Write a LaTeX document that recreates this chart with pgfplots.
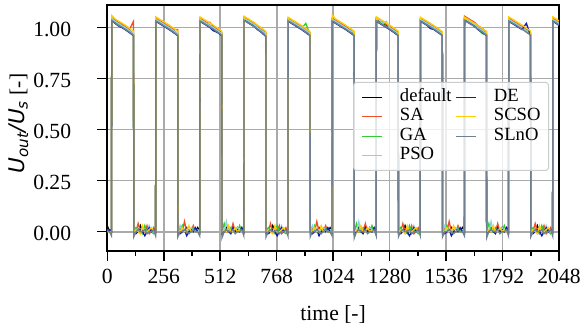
\documentclass[border=0pt]{standalone}
\usepackage{fontspec}
\setmainfont{Liberation Serif}
\newfontfamily\dejavu{DejaVu Sans}
\usepackage{pgfplots}
\pgfplotsset{compat=1.18}
\usepackage{pgfplotstable}
\definecolor{cdef}{RGB}{0,0,0}
\definecolor{csa}{RGB}{240,80,40}
\definecolor{cga}{RGB}{50,205,50}
\definecolor{cpso}{RGB}{140,210,230}
\definecolor{cde}{RGB}{15,25,175}
\definecolor{csc}{RGB}{255,205,0}
\definecolor{csl}{RGB}{112,128,144}
\definecolor{gridc}{RGB}{170,170,170}
\definecolor{legc}{RGB}{204,204,204}

\pgfplotstableread{
x d sa ga pso de sc sl
0 0.03 0 0.01 0 0 0 0.005
10 0 0.01 0 0 0.01 0 0
19 0 0 0 0 0 0 -0.02
20 1.045 1.05 1.04 1.045 1.035 1.058 1.035
35 1.03 1.035 1.025 1.03 1.02 1.042 1.022
50 1.02 1.025 1.012 1.02 1.008 1.032 1.01
65 1.01 1.02 1.005 1.01 1.0 1.022 1.002
80 1.0 1.005 0.995 1.0 0.99 1.012 0.992
100 0.985 0.99 0.98 0.985 0.975 0.997 0.977
119 0.97 1.03 0.965 0.97 0.96 0.982 0.962
120 0 0 0 0 -0.01 0 -0.025
130 0.01 0 0.02 0 -0.01 0.01 0
140 0 0.04 0 0.01 0 0 0.01
150 0.03 0 0 0 0.01 -0.01 0
160 0 0.01 -0.01 0.02 0 0.03 0
170 0 0 0.03 0 -0.02 0 0.01
180 0.02 0.03 0 0 0 0 -0.01
190 0 -0.01 0.01 0.03 0.02 0.01 0
200 0.01 0 0 0 0 0.02 0
210 0 0.02 -0.01 0 0.01 0 0.01
219 0 0 0 0 0 0 -0.02
220 1.04 1.045 1.035 1.04 1.03 1.052 1.032
235 1.03 1.035 1.025 1.03 1.02 1.042 1.022
250 1.02 1.025 1.015 1.02 1.01 1.032 1.012
265 1.01 1.015 1.005 1.01 1.0 1.022 1.002
280 1.0 1.005 0.995 1.0 0.99 1.012 0.992
300 0.985 0.99 0.98 0.985 0.975 0.997 0.977
319 0.97 0.99 0.965 0.97 0.96 0.982 0.962
320 0 0 0 0 0 0 -0.025
330 0 0.02 0 0.03 -0.01 0 0
340 0.01 0 0.03 0 0 0.02 0
350 0 0.05 0 0 0.01 0 0.01
360 0.02 0 0 0.01 -0.02 0 0
370 0 0.01 0.01 0 0 0.03 -0.01
380 0 0 0 0.02 0.01 0 0
390 0.01 0.03 0.02 0 0 0.01 0.01
400 0 0 0 0 0.02 0 0
410 0.02 0 0.01 0.01 0 0 0
419 0 0 0 0 0 0 -0.02
420 1.04 1.045 1.035 1.04 1.03 1.052 1.032
435 1.03 1.035 1.025 1.03 1.02 1.042 1.022
450 1.02 1.025 1.015 1.02 1.01 1.032 1.012
465 1.01 1.025 1.0 1.01 1.0 1.022 1.002
480 1.0 1.005 0.985 1.0 0.985 1.012 0.992
500 0.985 0.99 0.98 0.985 0.975 0.997 0.977
519 0.97 0.975 0.965 0.97 0.96 0.982 0.962
520 0 0 0 0 -0.01 0 -0.03
530 0 0.01 0.04 0 0 0.01 0
540 0.02 0 0 0.05 0.01 0 0.01
550 0 0.02 0 0 0 0.03 0
560 0 0 0.02 0 -0.01 0 0
570 0.01 0.04 0 0.01 0.02 0 0.01
580 0 0 0.01 0 0 0.02 -0.01
590 0.02 0.01 0 0.02 0.01 0 0
600 0 0 0.03 0 0 0.01 0
610 0.01 0.02 0 0 0.02 0 0.01
619 0 0 0 0 0 0 -0.02
620 1.045 1.05 1.04 1.045 1.035 1.055 1.035
635 1.035 1.04 1.03 1.035 1.025 1.045 1.025
650 1.025 1.03 1.02 1.025 1.015 1.035 1.015
665 1.015 1.02 1.01 1.015 1.005 1.025 1.005
680 1.0 1.01 0.995 1.0 0.99 1.012 0.992
700 0.985 0.995 0.98 0.985 0.975 0.997 0.977
719 0.97 0.975 0.965 0.97 0.955 0.98 0.958
720 0 0 0 0 -0.01 0 -0.025
730 0.01 0 0.02 0 -0.01 0.01 0
740 0 0.04 0 0.01 0 0 0.01
750 0.03 0 0 0 0.01 -0.01 0
760 0 0.01 -0.01 0.02 0 0.03 0
770 0 0 0.03 0 -0.02 0 0.01
780 0.02 0.03 0 0 0 0 -0.01
790 0 -0.01 0.01 0.03 0.02 0.01 0
800 0.01 0 0 0 0 0.02 0
810 0 0.02 -0.01 0 0.01 0 0.01
819 0 0 0 0 0 0 -0.02
820 1.04 1.045 1.035 1.04 1.03 1.05 1.032
835 1.03 1.035 1.025 1.03 1.02 1.04 1.022
850 1.02 1.025 1.015 1.02 1.01 1.03 1.012
865 1.01 1.015 1.005 1.01 1.0 1.02 1.002
880 1.0 1.005 0.995 1.0 0.99 1.01 0.992
900 0.985 0.99 1.02 0.985 0.975 0.995 0.977
919 0.97 0.975 0.965 0.97 0.96 0.98 0.962
920 0 0 0 0 0 0 -0.025
930 0 0.02 0 0.03 -0.01 0 0
940 0.01 0 0.03 0 0 0.02 0
950 0 0.05 0 0 0.01 0 0.01
960 0.02 0 0 0.01 -0.02 0 0
970 0 0.01 0.01 0 0 0.03 -0.01
980 0 0 0 0.02 0.01 0 0
990 0.01 0.03 0.02 0 0 0.01 0.01
1000 0 0 0 0 0.02 0 0
1010 0.02 0 0.01 0.01 0 0 0
1019 0 0 0 0 0 0 -0.02
1020 1.04 1.045 1.035 1.04 1.03 1.06 1.032
1035 1.03 1.035 1.025 1.03 1.02 1.042 1.022
1050 1.02 1.025 1.015 1.02 1.01 1.032 1.012
1065 1.01 1.015 1.005 1.01 1.0 1.022 1.002
1080 1.0 1.005 0.995 1.0 0.99 1.012 0.992
1100 0.985 0.99 0.98 0.985 0.975 0.997 0.977
1119 0.97 0.975 0.965 0.975 0.96 0.982 0.962
1120 0 0 0 0 -0.01 0 -0.03
1130 0 0.01 0.04 0 0 0.01 0
1140 0.02 0 0 0.05 0.01 0 0.01
1150 0 0.02 0 0 0 0.03 0
1160 0 0 0.02 0 -0.01 0 0
1170 0.01 0.04 0 0.01 0.02 0 0.01
1180 0 0 0.01 0 0 0.02 -0.01
1190 0.02 0.01 0 0.02 0.01 0 0
1200 0 0 0.03 0 0 0.01 0
1210 0.01 0.02 0 0 0.02 0 0.01
1219 0 0 0 0 0 0 -0.02
1220 1.04 1.045 1.035 1.045 1.03 1.052 1.032
1235 1.03 1.035 1.025 1.035 1.02 1.042 1.022
1250 1.02 1.025 1.015 1.02 1.01 1.032 1.012
1265 1.01 1.015 1.005 1.03 1.0 1.022 1.002
1280 1.0 1.005 0.995 1.0 0.99 1.012 0.992
1300 0.985 0.99 0.98 0.985 0.975 0.997 0.977
1319 0.97 0.975 0.965 0.97 0.96 0.982 0.962
1320 0 0 0 0 -0.01 0 -0.025
1330 0.01 0 0.02 0 -0.01 0.01 0
1340 0 0.04 0 0.01 0 0 0.01
1350 0.03 0 0 0 0.01 -0.01 0
1360 0 0.01 -0.01 0.02 0 0.03 0
1370 0 0 0.03 0 -0.02 0 0.01
1380 0.02 0.03 0 0 0 0 -0.01
1390 0 -0.01 0.01 0.03 0.02 0.01 0
1400 0.01 0 0 0 0 0.02 0
1410 0 0.02 -0.01 0 0.01 0 0.01
1419 0 0 0 0 0 0 -0.02
1420 1.04 1.045 1.035 1.04 1.03 1.05 1.032
1435 1.03 1.035 1.025 1.03 1.02 1.04 1.022
1450 1.02 1.025 1.015 1.02 1.01 1.03 1.012
1465 1.01 1.015 1.005 1.01 0.995 1.02 1.002
1480 1.0 1.005 0.995 1.0 0.99 1.01 0.992
1500 0.985 0.99 0.98 0.985 0.975 0.995 0.977
1519 0.97 0.975 0.965 0.97 0.96 0.98 0.962
1520 0 0 0 0 0 0 -0.025
1530 0 0.02 0 0.03 -0.01 0 0
1540 0.01 0 0.03 0 0 0.02 0
1550 0 0.05 0 0 0.01 0 0.01
1560 0.02 0 0 0.01 -0.02 0 0
1570 0 0.01 0.01 0 0 0.03 -0.01
1580 0 0 0 0.02 0.01 0 0
1590 0.01 0.03 0.02 0 0 0.01 0.01
1600 0 0 0 0 0.02 0 0
1610 0.02 0 0.01 0.01 0 0 0
1619 0 0 0 0 0 0 -0.02
1620 1.045 1.055 1.04 1.045 1.035 1.05 1.035
1635 1.035 1.045 1.03 1.035 1.025 1.04 1.025
1650 1.025 1.035 1.02 1.025 1.015 1.03 1.015
1665 1.015 1.025 1.01 1.015 1.005 1.02 1.005
1680 1.0 1.01 0.995 1.0 0.99 1.01 0.992
1700 0.985 0.995 0.97 0.985 0.975 0.995 0.977
1719 0.97 0.98 0.965 0.97 0.96 0.98 0.962
1720 0 0 0 0 -0.01 0 -0.03
1730 0 0.01 0.04 0 0 0.01 0
1740 0.02 0 0 0.05 0.01 0 0.01
1750 0 0.02 0 0 0 0.03 0
1760 0 0 0.02 0 -0.01 0 0
1770 0.01 0.04 0 0.01 0.02 0 0.01
1780 0 0 0.01 0 0 0.02 -0.01
1790 0.02 0.01 0 0.02 0.01 0 0
1800 0 0 0.03 0 0 0.01 0
1810 0.01 0.02 0 0 0.02 0 0.01
1819 0 0 0 0 0 0 -0.02
1820 1.04 1.045 1.035 1.04 1.03 1.052 1.032
1835 1.03 1.035 1.025 1.03 1.02 1.042 1.022
1850 1.02 1.025 1.015 1.02 1.01 1.032 1.012
1865 1.01 1.015 1.005 1.01 1.0 1.022 1.002
1880 1.0 1.005 0.995 1.0 0.99 1.012 0.992
1900 0.985 0.99 0.98 0.985 1.02 0.997 0.977
1919 0.97 0.975 0.965 0.97 0.96 0.982 0.962
1920 0 0 0 0 -0.01 0 -0.025
1930 0.01 0 0.02 0 -0.01 0.01 0
1940 0 0.04 0 0.01 0 0 0.01
1950 0.03 0 0 0 0.01 -0.01 0
1960 0 0.01 -0.01 0.02 0 0.03 0
1970 0 0 0.03 0 -0.02 0 0.01
1980 0.02 0.03 0 0 0 0 -0.01
1990 0 -0.01 0.01 0.03 0.02 0.01 0
2000 0.01 0 0 0 0 0.02 0
2010 0 0.02 -0.01 0 0.01 0 0.01
2019 0 0 0 0 0 0 -0.02
2020 1.04 1.045 1.035 1.04 1.03 1.052 1.032
2035 1.03 1.035 1.025 1.03 1.02 1.042 1.022
2048 1.02 1.025 1.015 1.02 1.01 1.032 1.012
}\datatable

\begin{document}
\begin{tikzpicture}
\useasboundingbox (-107.3bp,-78.3bp) rectangle (475.7bp,250.7bp);
\begin{axis}[
  at={(0,0)}, anchor=south west,
  scale only axis, width=451.7bp, height=245.7bp,
  xmin=0, xmax=2048, ymin=-0.093, ymax=1.11,
  xtick={0,256,512,768,1024,1280,1536,1792,2048},
  xticklabels={0,256,512,768,1024,1280,1536,1792,2048},
  minor xtick={128,384,640,896,1152,1408,1664,1920},
  ytick={0,0.25,0.5,0.75,1},
  yticklabels={0.00,0.25,0.50,0.75,1.00},
  /pgf/number format/assume math mode=true,
  tick align=outside, xtick pos=left, ytick pos=left,
  major tick length=10bp, minor tick length=5.5bp,
  tick style={black, line width=1.5bp},
  axis line style={black, line width=1.6bp},
  grid=major,
  major grid style={gridc, line width=1.7bp},
  ticklabel style={font=\fontsize{21.7}{24}\selectfont, inner sep=0pt},
  xticklabel style={anchor=base, yshift=-22.3bp},
  yticklabel style={anchor=base east, xshift=-26bp, yshift=-8.6bp},
  xlabel={time [-]},
  xlabel style={font=\fontsize{21.7}{24}\selectfont, at={(axis description cs:0.5,-0.284)}, anchor=base, inner sep=0pt},
  ylabel={{\dejavu\itshape U\textsubscript{out}/U\textsubscript{s}} [-]},
  ylabel style={font=\fontsize{21.7}{24}\selectfont, at={(axis description cs:-0.1966,0.518)}, anchor=center, inner sep=0pt},
  every axis plot/.append style={line width=1.3bp, mark=none},
  legend image code/.code={\draw[#1, line width=1.3bp] (0bp,0bp) -- (20bp,0bp);},
  legend columns=2,
  legend cell align=left,
  legend style={at={(0.978,0.687)}, anchor=north east,
    draw=legc, line width=1bp, rounded corners=3bp, fill=white, fill opacity=0.8, text opacity=1,
    font=\fontsize{18.7}{19}\selectfont,
    inner xsep=8bp, inner ysep=6bp,
    nodes={inner sep=0bp, text height=13bp, text depth=4.5bp},
    row sep=2bp,
    /tikz/every odd column/.style={column sep=17bp},
    /tikz/every even column/.style={column sep=4bp}},
]
\addplot[cdef, forget plot] table[x=x,y=d]{\datatable};
\addplot[csa, forget plot] table[x=x,y=sa]{\datatable};
\addplot[cga, forget plot] table[x=x,y=ga]{\datatable};
\addplot[cpso, forget plot] table[x=x,y=pso]{\datatable};
\addplot[cde, forget plot] table[x=x,y=de]{\datatable};
\addplot[csc, forget plot] table[x=x,y=sc]{\datatable};
\addplot[csl, forget plot] table[x=x,y=sl]{\datatable};
\addlegendimage{cdef}\addlegendentry{default}
\addlegendimage{cde}\addlegendentry{DE}
\addlegendimage{csa}\addlegendentry{SA}
\addlegendimage{csc}\addlegendentry{SCSO}
\addlegendimage{cga}\addlegendentry{GA}
\addlegendimage{csl}\addlegendentry{SLnO}
\addlegendimage{cpso}\addlegendentry{PSO}
\end{axis}
\end{tikzpicture}
\end{document}
